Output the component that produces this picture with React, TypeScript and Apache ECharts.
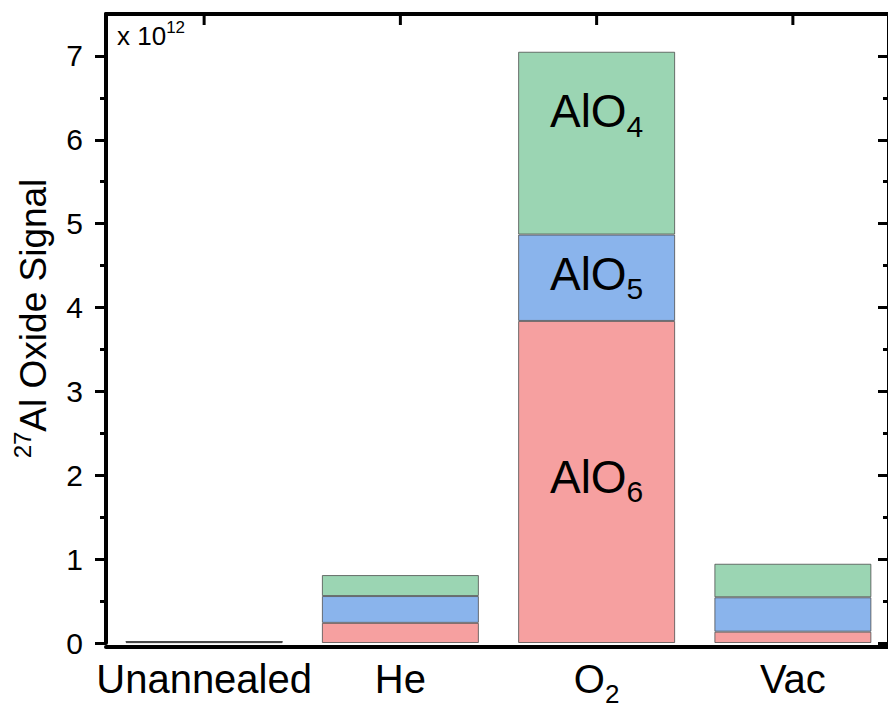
import React, { useEffect, useRef } from 'react';
import * as echarts from 'echarts';

const categories = ['Unannealed', 'He', 'O2', 'Vac'];
const alo6 = [0.01, 0.24, 3.84, 0.135];
const alo5 = [0.005, 0.32, 1.03, 0.41];
const alo4 = [0.005, 0.25, 2.18, 0.4];
const seriesNames = ['AlO6', 'AlO5', 'AlO4'];
const seriesColors = ['#f6a0a0', '#8ab4ec', '#9bd5b3'];
const majorTicks = [0, 1, 2, 3, 4, 5, 6, 7];
const minorTicks = [0.5, 1.5, 2.5, 3.5, 4.5, 5.5, 6.5];
const yMax = 7.5;
const labelledCategory = 'O2';
const labelOffsets = [[0, -5], [0, -4], [0, -32]];

const FONT = "'Liberation Sans', Arial, Helvetica, sans-serif";

function subRich(big: number, small: number, shift: number) {
  return {
    a: { fontSize: big, fontFamily: FONT, color: '#000' },
    s: { fontSize: small, fontFamily: FONT, color: '#000', padding: [shift * 2, 0, 0, 0] },
  };
}

export default function App() {
  const ref = useRef<HTMLDivElement>(null);
  useEffect(() => {
    if (!ref.current) return;
    const chart = echarts.init(ref.current, undefined, { renderer: 'svg' });
    const seriesData = [alo6, alo5, alo4];
    const labelIdx = categories.indexOf(labelledCategory);
    const series: any[] = seriesNames.map((name, si) => ({
      name,
      type: 'bar',
      stack: 'total',
      xAxisIndex: 0,
      yAxisIndex: 0,
      barWidth: 157,
      itemStyle: { color: seriesColors[si], borderColor: 'rgba(70,70,70,0.75)', borderWidth: 1 },
      data: seriesData[si].map((v, i) =>
        i === labelIdx
          ? {
              value: v,
              label: {
                show: true,
                position: 'inside',
                offset: labelOffsets[si],
                formatter: '{a|AlO}{s|' + name.slice(3) + '}',
                rich: subRich(46, 30, 15),
              },
            }
          : v
      ),
    }));

    const axisLineStyle = { color: '#000', width: 4 };
    const tickStyle = { color: '#000', width: 3 };

    const scaleText = {
      type: 'text',
      left: 117,
      top: 19,
      style: {
        text: '{a|x 10}{b|12}',
        rich: {
          a: { fontSize: 26, fontFamily: FONT, fill: '#000', color: '#000' },
          b: { fontSize: 17, fontFamily: FONT, fill: '#000', color: '#000', padding: [0, 0, 16, 0] },
        },
      },
    };

    chart.setOption({
      animation: false,
      backgroundColor: '#fff',
      textStyle: { fontFamily: FONT },
      grid: { left: 106, top: 14, width: 785, height: 629, containLabel: false, outerBoundsMode: 'none' },
      xAxis: [
        {
          type: 'category',
          data: categories,
          position: 'bottom',
          offset: 4,
          axisLine: { onZero: false, lineStyle: axisLineStyle },
          axisTick: { show: false },
          axisLabel: {
            interval: 0,
            margin: 12,
            color: '#000',
            fontSize: 40,
            fontFamily: FONT,
            formatter: (v: string) => (v === 'O2' ? '{a|O}{s|2}' : '{a|' + v + '}'),
            rich: {
              a: { fontSize: 40, fontFamily: FONT, color: '#000', verticalAlign: 'top', lineHeight: 40 },
              s: { fontSize: 26, fontFamily: FONT, color: '#000', verticalAlign: 'top', lineHeight: 26, padding: [22, 0, 0, 0] },
            },
          },
        },
        {
          type: 'category',
          data: categories,
          position: 'top',
          axisLine: { show: true, onZero: false, lineStyle: axisLineStyle },
          axisTick: { show: false },
          axisLabel: { show: false },
          splitLine: { show: false },
        },
      ],
      yAxis: [
        {
          type: 'value',
          min: 0,
          max: yMax,
          position: 'left',
          axisLine: { show: true, onZero: false, lineStyle: axisLineStyle },
          axisTick: { show: true, length: 11, lineStyle: tickStyle, customValues: majorTicks },
          splitLine: { show: false },
          axisLabel: {
            color: '#000',
            fontSize: 30,
            fontFamily: FONT,
            margin: 23,
            customValues: majorTicks,
          },
          name: '{sup|27}{t|Al Oxide Signal}',
          nameLocation: 'middle',
          nameGap: 50,
          nameRotate: 90,
          nameTextStyle: {
            color: '#000',
            fontFamily: FONT,
            padding: [0, 0, 0, 20],
            rich: {
              sup: { fontSize: 24, fontFamily: FONT, color: '#000', padding: [0, 0, 22, 0] },
              t: { fontSize: 37, fontFamily: FONT, color: '#000' },
            },
          },
        },
        {
          type: 'value',
          min: 0,
          max: yMax,
          position: 'left',
          axisLine: { show: false, onZero: false },
          axisTick: { show: true, length: 6, lineStyle: tickStyle, customValues: minorTicks },
          splitLine: { show: false },
          axisLabel: { show: false },
        },
        {
          type: 'value',
          min: 0,
          max: yMax,
          position: 'right',
          offset: -2,
          axisLine: { show: true, onZero: false, lineStyle: axisLineStyle },
          axisTick: { show: true, inside: true, length: 11, lineStyle: tickStyle, customValues: majorTicks },
          splitLine: { show: false },
          axisLabel: { show: false },
        },
        {
          type: 'value',
          min: 0,
          max: yMax,
          position: 'right',
          offset: -2,
          axisLine: { show: false, onZero: false },
          axisTick: { show: true, inside: true, length: 6, lineStyle: tickStyle, customValues: minorTicks },
          splitLine: { show: false },
          axisLabel: { show: false },
        },
      ],
      graphic: [scaleText],
      series,
    });

    // inward ticks of the top axis at each category centre, placed through the chart's own scales
    const topTicks = categories.map((_, i) => {
      const p = chart.convertToPixel({ xAxisIndex: 0, yAxisIndex: 0 }, [i, yMax]) as number[];
      return {
        type: 'line',
        z: 100,
        shape: { x1: p[0], y1: p[1], x2: p[0], y2: p[1] + 11 },
        style: { stroke: '#000', lineWidth: 3 },
      };
    });
    chart.setOption({ graphic: [scaleText, ...topTicks] });

    return () => chart.dispose();
  }, []);
  return <div ref={ref} style={{ position: 'fixed', left: 0, top: 0, width: 888, height: 708 }} />;
}
